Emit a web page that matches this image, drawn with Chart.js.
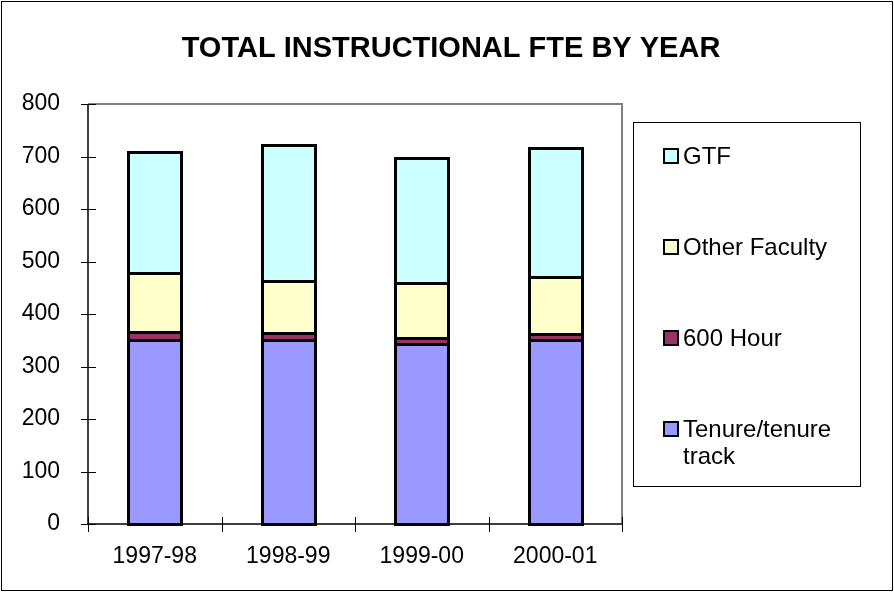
<!DOCTYPE html>
<html>
<head>
<meta charset="utf-8">
<script src="https://cdn.jsdelivr.net/npm/chart.js@4/dist/chart.umd.min.js"></script>
<style>
  html, body { margin: 0; padding: 0; background: #fff; }
  #wrap { position: relative; width: 894px; height: 592px; }
  canvas { position: absolute; left: 0; top: 0; }
  #legend { position: absolute; left: 633px; top: 122px; width: 228px; height: 365px;
            border: 1px solid #000; box-sizing: border-box; font-family: "Liberation Sans", Arial, sans-serif;
            font-size: 24px; color: #000; }
  .item { position: absolute; left: 29px; display: flex; align-items: flex-start; line-height: 27px; }
  .sw { width: 12px; height: 12px; border: 2px solid #000; margin-right: 4px; margin-top: 6px; flex: none; }
</style>
</head>
<body>
<div id="wrap">
  <canvas id="c" width="894" height="592"></canvas>
  <div id="legend"></div>
</div>
<script>
const categories = ["1997-98", "1998-99", "1999-00", "2000-01"];
const tenure = [351, 350, 343, 350];
const hour600 = [14, 14, 12, 12];
const otherFaculty = [113, 99, 104, 108];
const gtf = [231, 258, 239, 246];
const yTicks = [0, 100, 200, 300, 400, 500, 600, 700, 800];

const seriesNames = ["Tenure/tenure track", "600 Hour", "Other Faculty", "GTF"];
const seriesColors = ["#9999FF", "#993366", "#FFFFCC", "#CCFFFF"];
const seriesData = [tenure, hour600, otherFaculty, gtf];
const chartTitle = 'TOTAL INSTRUCTIONAL FTE BY YEAR';

const FONT = '"Liberation Sans", Arial, sans-serif';

const frame = {
  id: 'frame',
  beforeDraw(chart) {
    const ctx = chart.ctx;
    ctx.save();
    ctx.fillStyle = '#fff';
    ctx.fillRect(0, 0, chart.width, chart.height);
    ctx.strokeStyle = '#000';
    ctx.lineWidth = 1;
    ctx.strokeRect(1.5, 1.5, chart.width - 3, chart.height - 3);
    ctx.restore();
  },
  afterDatasetsDraw(chart) {
    // crisp black outlines around each bar segment, from the library's element geometry
    const ctx = chart.ctx;
    ctx.save();
    ctx.strokeStyle = '#000';
    ctx.lineWidth = 3;
    chart.data.datasets.forEach((ds, di) => {
      const meta = chart.getDatasetMeta(di);
      meta.data.forEach(el => {
        const p = el.getProps(['x', 'y', 'base', 'width'], true);
        const l = Math.round(p.x - p.width / 2) + 0.5;
        const r = Math.round(p.x + p.width / 2) + 0.5;
        const t = Math.round(p.y) + 0.5;
        const b = Math.round(p.base) + 0.5;
        ctx.strokeRect(l, t, r - l, b - t);
      });
    });
    ctx.restore();
  },
  afterDraw(chart) {
    const ctx = chart.ctx;
    const a = chart.chartArea;
    ctx.save();
    // title
    ctx.fillStyle = '#000';
    ctx.font = 'bold 29px ' + FONT;
    ctx.textAlign = 'center';
    ctx.textBaseline = 'middle';
    ctx.fillText(chartTitle, 451, 49);
    // gray plot border top & right
    ctx.strokeStyle = '#808080';
    ctx.lineWidth = 2;
    ctx.beginPath();
    ctx.moveTo(a.left, a.top);
    ctx.lineTo(a.right, a.top);
    ctx.lineTo(a.right, a.bottom);
    ctx.stroke();
    // axes
    ctx.strokeStyle = '#000';
    ctx.lineWidth = 1.5;
    ctx.beginPath();
    ctx.moveTo(a.left, a.top);
    ctx.lineTo(a.left, a.bottom);
    ctx.lineTo(a.right, a.bottom);
    ctx.stroke();
    // crossing tick marks
    ctx.lineWidth = 1;
    const ys = chart.scales.y;
    ctx.beginPath();
    yTicks.forEach(v => {
      const p = Math.round(ys.getPixelForValue(v)) + 0.5;
      ctx.moveTo(a.left - 7, p);
      ctx.lineTo(a.left + 8, p);
    });
    const n = categories.length;
    for (let i = 0; i <= n; i++) {
      const p = Math.round(a.left + (a.right - a.left) * i / n) + 0.5;
      ctx.moveTo(p, a.bottom - 7);
      ctx.lineTo(p, a.bottom + 8);
    }
    ctx.stroke();
    ctx.restore();
  }
};

const datasets = seriesNames.map((name, i) => ({
  label: name,
  data: seriesData[i],
  backgroundColor: seriesColors[i],
  borderColor: '#000',
  borderWidth: 0,
  inflateAmount: 0,
  categoryPercentage: 1,
  barPercentage: 0.4
}));

new Chart(document.getElementById('c'), {
  type: 'bar',
  data: { labels: categories, datasets },
  plugins: [frame],
  options: {
    responsive: false,
    animation: false,
    devicePixelRatio: 1,
    layout: { padding: { left: 0, right: 272, top: 104, bottom: 0 } },
    plugins: {
      legend: { display: false },
      tooltip: { enabled: false },
      title: { display: false }
    },
    scales: {
      x: {
        stacked: true,
        offset: true,
        grid: { display: false, drawTicks: false },
        border: { display: false },
        ticks: { color: '#000', font: { family: FONT, size: 23 }, padding: 19 },
        afterFit(s) { s.height = 68; }
      },
      y: {
        stacked: true,
        min: 0, max: 800,
        grid: { display: false, drawTicks: false },
        border: { display: false },
        ticks: { stepSize: 100, color: '#000', font: { family: FONT, size: 23 }, padding: 28,
                 callback: v => yTicks.includes(v) ? String(v) : '' },
        afterFit(s) { s.width = 88; }
      }
    }
  }
});

// HTML legend
const legend = document.getElementById('legend');
const legendOrder = [3, 2, 1, 0];
const legendTops = [19, 110, 201, 292];
const legendLabels = ["GTF", "Other Faculty", "600 Hour", "Tenure/tenure<br>track"];
legendOrder.forEach((si, k) => {
  const d = document.createElement('div');
  d.className = 'item';
  d.style.top = legendTops[k] + 'px';
  d.innerHTML = '<span class="sw" style="background:' + seriesColors[si] + '"></span><span>' + legendLabels[k] + '</span>';
  legend.appendChild(d);
});
</script>
</body>
</html>
